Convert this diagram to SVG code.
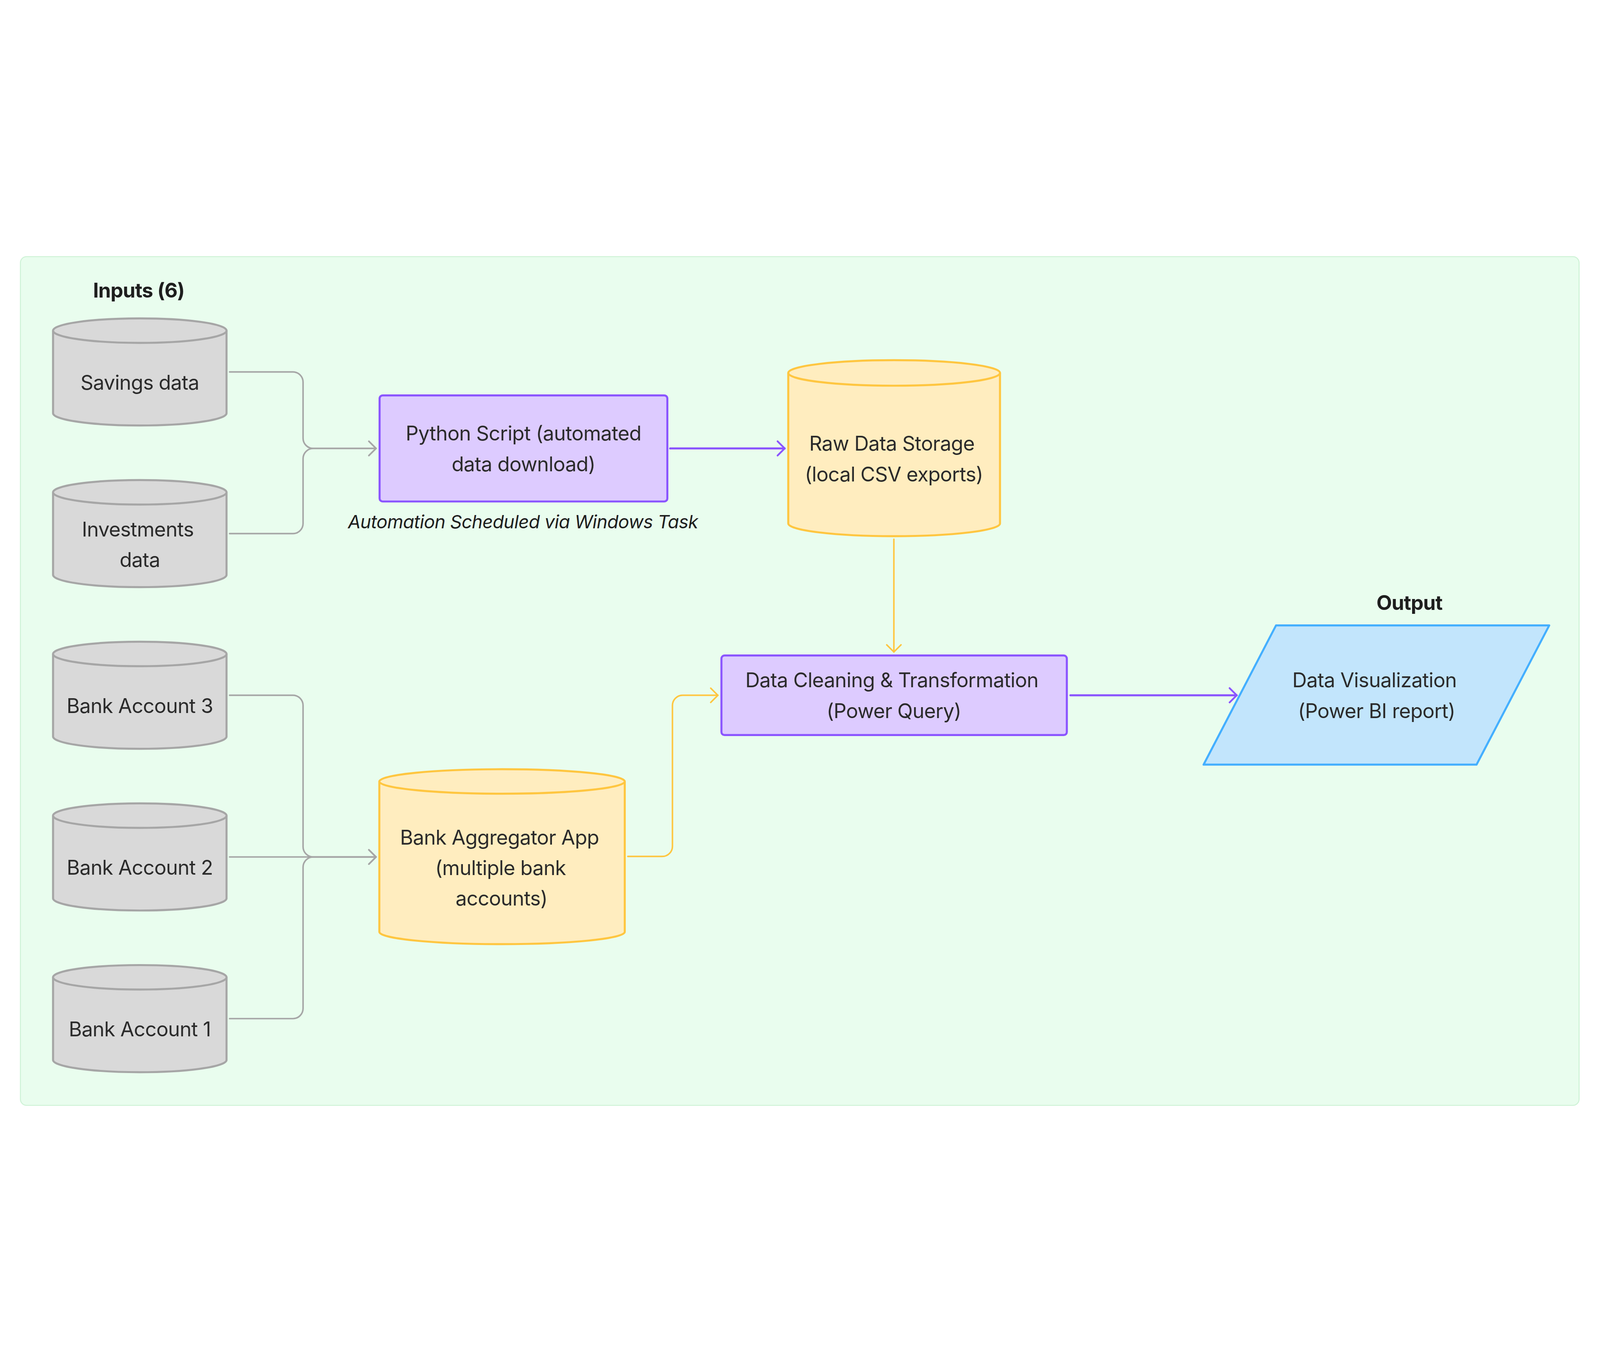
<svg xmlns="http://www.w3.org/2000/svg" width="6272" height="3488" viewBox="0 0 6272 3488">
<defs>
<style>
svg{width:100vw;height:100vh}
.txt{font-family:Inter,"Liberation Sans",sans-serif;font-size:79px;letter-spacing:-1.2px;fill:#2b2b2b;text-anchor:middle}
.hdr{font-family:Inter,"Liberation Sans",sans-serif;font-size:79px;letter-spacing:-1.4px;font-weight:700;fill:#1e1e1e;text-anchor:middle}
.cap{font-family:Inter,"Liberation Sans",sans-serif;font-size:72px;letter-spacing:-1.1px;font-style:italic;fill:#1e1e1e;text-anchor:middle}
.gcyl{fill:#d9d9d9;stroke:#a6a6a6;stroke-width:8;stroke-linejoin:round}
.ycyl{fill:#ffedbf;stroke:#ffc640;stroke-width:8;stroke-linejoin:round}
.pbox{fill:#ddcbff;stroke:#8b55ff;stroke-width:8}
.gline{fill:none;stroke:#a6a6a6;stroke-width:6;stroke-linecap:round}
.yline{fill:none;stroke:#ffc640;stroke-width:6;stroke-linecap:round}
.pline{fill:none;stroke:#8b55ff;stroke-width:8;stroke-linecap:round}
</style>
<marker id="ag" markerUnits="userSpaceOnUse" markerWidth="80" markerHeight="80" viewBox="-40 -40 80 80" refX="0" refY="0" orient="auto">
<path d="M-28,-28 L0,0 L-28,28" fill="none" stroke="#a6a6a6" stroke-width="6" stroke-linecap="round" stroke-linejoin="round"/>
</marker>
<marker id="ay" markerUnits="userSpaceOnUse" markerWidth="80" markerHeight="80" viewBox="-40 -40 80 80" refX="0" refY="0" orient="auto">
<path d="M-28,-28 L0,0 L-28,28" fill="none" stroke="#ffc640" stroke-width="6" stroke-linecap="round" stroke-linejoin="round"/>
</marker>
<marker id="ap" markerUnits="userSpaceOnUse" markerWidth="80" markerHeight="80" viewBox="-40 -40 80 80" refX="0" refY="0" orient="auto">
<path d="M-28,-28 L0,0 L-28,28" fill="none" stroke="#8b55ff" stroke-width="7" stroke-linecap="round" stroke-linejoin="round"/>
</marker>
</defs>
<rect x="0" y="0" width="6272" height="3488" fill="#ffffff"/>
<rect id="panel" x="80" y="80" width="6110" height="3328" rx="24" fill="#e9fdee" stroke="#cff3d7" stroke-width="4"/>
<text class="hdr" x="544" y="241">Inputs (6)</text>
<text class="hdr" x="5525" y="1465">Output</text>

<g id="connectors">
<path class="gline" marker-end="url(#ag)" d="M900,532 H1148 A40,40 0 0 1 1188,572 V792 A40,40 0 0 0 1228,832 H1474"/>
<path class="gline" marker-end="url(#ag)" d="M900,1166 H1148 A40,40 0 0 0 1188,1126 V872 A40,40 0 0 1 1228,832 H1474"/>
<path class="gline" marker-end="url(#ag)" d="M900,1800 H1148 A40,40 0 0 1 1188,1840 V2394 A40,40 0 0 0 1228,2434 H1474"/>
<path class="gline" marker-end="url(#ag)" d="M900,2434 H1474"/>
<path class="gline" marker-end="url(#ag)" d="M900,3068 H1148 A40,40 0 0 0 1188,3028 V2474 A40,40 0 0 1 1228,2434 H1474"/>
<path class="pline" marker-end="url(#ap)" d="M2627,832 H3076"/>
<path class="yline" marker-end="url(#ay)" d="M3504,1188 V1630"/>
<path class="yline" marker-end="url(#ay)" d="M2461,2432 H2596 A40,40 0 0 0 2636,2392 V1840 A40,40 0 0 1 2676,1800 H2814"/>
<path class="pline" marker-end="url(#ap)" d="M4196,1800 H4848"/>
</g>

<g id="savings">
<path class="gcyl" d="M208,370 A340,48 0 0 1 888,370 V694 A340,48 0 0 1 208,694 Z"/>
<path class="gcyl" fill="none" d="M208,370 A340,48 0 0 0 888,370"/>
<text class="txt" x="548" y="601">Savings data</text>
</g>
<g id="investments">
<path class="gcyl" d="M208,1004 A340,48 0 0 1 888,1004 V1328 A340,48 0 0 1 208,1328 Z"/>
<path class="gcyl" fill="none" d="M208,1004 A340,48 0 0 0 888,1004"/>
<text class="txt" x="540" y="1177">Investments</text>
<text class="txt" x="548" y="1297">data</text>
</g>
<g id="bank3">
<path class="gcyl" d="M208,1638 A340,48 0 0 1 888,1638 V1962 A340,48 0 0 1 208,1962 Z"/>
<path class="gcyl" fill="none" d="M208,1638 A340,48 0 0 0 888,1638"/>
<text class="txt" x="548" y="1869">Bank Account 3</text>
</g>
<g id="bank2">
<path class="gcyl" d="M208,2272 A340,48 0 0 1 888,2272 V2596 A340,48 0 0 1 208,2596 Z"/>
<path class="gcyl" fill="none" d="M208,2272 A340,48 0 0 0 888,2272"/>
<text class="txt" x="548" y="2503">Bank Account 2</text>
</g>
<g id="bank1">
<path class="gcyl" d="M208,2906 A340,48 0 0 1 888,2906 V3230 A340,48 0 0 1 208,3230 Z"/>
<path class="gcyl" fill="none" d="M208,2906 A340,48 0 0 0 888,2906"/>
<text class="txt" x="548" y="3137">Bank Account 1</text>
</g>

<g id="python">
<rect class="pbox" x="1488" y="624" width="1128" height="416" rx="12"/>
<text class="txt" x="2052" y="801">Python Script (automated</text>
<text class="txt" x="2052" y="921">data download)</text>
<text class="cap" x="2050" y="1145">Automation Scheduled via Windows Task</text>
</g>

<g id="raw">
<path class="ycyl" d="M3090,536 A415,50 0 0 1 3920,536 V1126 A415,50 0 0 1 3090,1126 Z"/>
<path class="ycyl" fill="none" d="M3090,536 A415,50 0 0 0 3920,536"/>
<text class="txt" x="3496" y="841">Raw Data Storage</text>
<text class="txt" x="3504" y="961">(local CSV exports)</text>
</g>

<g id="aggregator">
<path class="ycyl" d="M1487,2138 A481,48 0 0 1 2449,2138 V2728 A481,48 0 0 1 1487,2728 Z"/>
<path class="ycyl" fill="none" d="M1487,2138 A481,48 0 0 0 2449,2138"/>
<text class="txt" x="1958" y="2385">Bank Aggregator App</text>
<text class="txt" x="1962" y="2505">(multiple bank</text>
<text class="txt" x="1966" y="2625">accounts)</text>
</g>

<g id="cleaning">
<rect class="pbox" x="2828" y="1644" width="1354" height="312" rx="12"/>
<text class="txt" x="3496" y="1769">Data Cleaning &amp; Transformation</text>
<text class="txt" x="3504" y="1889">(Power Query)</text>
</g>

<g id="visualization">
<path d="M5002,1526 H6073 L5788,2072 H4718 Z" fill="#c2e5fc" stroke="#44afff" stroke-width="8" stroke-linejoin="round"/>
<text class="txt" x="5388" y="1769">Data Visualization</text>
<text class="txt" x="5396" y="1889">(Power BI report)</text>
</g>
</svg>
